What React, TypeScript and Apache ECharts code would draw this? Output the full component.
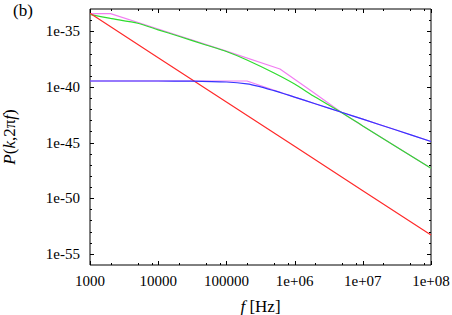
import React, { useEffect, useRef } from 'react';
import * as echarts from 'echarts';

// Frequencies in Hz and log10 of the power spectrum P(k, 2πf)
const redFreq = [1e3, 1e4, 1e5, 1e6, 1e7, 1e8];
const redLogP = [-33.39, -37.37, -41.36, -45.34, -49.33, -53.31];

const greenFreq = [1e3, 2e3, 5e3, 1e4, 2e4, 5e4, 1e5, 2e5, 5e5, 1e6, 2e6, 5e6, 1e7, 1e8];
const greenLogP = [-33.49, -33.85, -34.28, -34.87, -35.45, -36.23, -36.82, -37.58, -38.75, -39.74, -40.91, -42.34, -43.51, -47.31];

const violetUpperFreq = [1e3, 2e3, 1e4, 1e5, 6.1e5, 1.7e6, 5e6, 1e7, 1e8];
const violetUpperLogP = [-33.42, -33.42, -34.8, -36.78, -38.39, -40.3, -42.34, -43.51, -47.31];

const blueFreq = [1e3, 1e4, 3e4, 1e5, 2e5, 3e5, 5e5, 7e5, 1e6, 2e6, 5e6, 1e7, 3e7, 1e8];
const blueLogP = [-39.47, -39.47, -39.48, -39.56, -39.72, -39.95, -40.34, -40.61, -40.92, -41.51, -42.3, -42.9, -43.85, -44.9];

const violetLowerFreq = [1e3, 2e5, 7.7e5, 1e6, 2e6, 5e6, 1e7, 3e7, 1e8];
const violetLowerLogP = [-39.47, -39.47, -40.68, -40.92, -41.51, -42.3, -42.9, -43.85, -44.9];

// Axis ticks
const xMajorTicks = [1e3, 1e4, 1e5, 1e6, 1e7, 1e8];
const xMinorTicks = [2e3, 5e3, 8e3, 2e4, 5e4, 8e4, 2e5, 5e5, 8e5, 2e6, 5e6, 8e6, 2e7, 5e7, 8e7];
const yMajorTicks = [-55, -50, -45, -40, -35];
const yMinorTicks = [-54, -53, -52, -51, -49, -48, -47, -46, -44, -43, -42, -41, -39, -38, -37, -36, -34];

const FONT = 'Liberation Serif';
const MAJOR_LEN = 4;
const MINOR_LEN = 2;

const pts = (f: number[], lp: number[]) => f.map((x, i) => [x, lp[i]]);

const xLabel = (v: number) => {
  const e = Math.round(Math.log10(v));
  return e < 6 ? String(Math.pow(10, e)) : '1e+' + String(e).padStart(2, '0');
};

export default function App() {
  const ref = useRef<HTMLDivElement>(null);
  useEffect(() => {
    if (!ref.current) return;
    const chart = echarts.init(ref.current, null, { renderer: 'svg' });
    const line = (name: string, data: number[][], color: string, smooth: number | boolean, z: number) => ({
      name,
      type: 'line',
      data,
      showSymbol: false,
      symbol: 'none',
      smooth,
      z,
      lineStyle: { color, width: 1.2 },
    });
    // tick marks (mirrored on both sides, pointing inwards), placed through the axes' own scales
    const xTickData = [
      ...xMajorTicks.map((v) => [v, -40, MAJOR_LEN]),
      ...xMinorTicks.map((v) => [v, -40, MINOR_LEN]),
    ];
    const yTickData = [
      ...yMajorTicks.map((v) => [1e4, v, MAJOR_LEN]),
      ...yMinorTicks.map((v) => [1e4, v, MINOR_LEN]),
    ];
    const tickStyle = { stroke: '#000', lineWidth: 1 };
    const xTicks = {
      type: 'custom',
      silent: true,
      z: 10,
      clip: false,
      data: xTickData,
      renderItem: (params: any, api: any) => {
        const cs = params.coordSys;
        const p = api.coord([api.value(0), api.value(1)]);
        const x = Math.round(p[0]) + 0.5;
        const len = api.value(2);
        const top = cs.y;
        const bottom = cs.y + cs.height;
        return {
          type: 'group',
          children: [
            { type: 'line', shape: { x1: x, y1: bottom, x2: x, y2: bottom - len }, style: tickStyle },
            { type: 'line', shape: { x1: x, y1: top, x2: x, y2: top + len }, style: tickStyle },
          ],
        };
      },
    };
    const yTicks = {
      type: 'custom',
      silent: true,
      z: 10,
      clip: false,
      data: yTickData,
      renderItem: (params: any, api: any) => {
        const cs = params.coordSys;
        const p = api.coord([api.value(0), api.value(1)]);
        const y = Math.round(p[1]) + 0.5;
        const len = api.value(2);
        const left = cs.x;
        const right = cs.x + cs.width;
        return {
          type: 'group',
          children: [
            { type: 'line', shape: { x1: left, y1: y, x2: left + len, y2: y }, style: tickStyle },
            { type: 'line', shape: { x1: right, y1: y, x2: right - len, y2: y }, style: tickStyle },
          ],
        };
      },
    };
    chart.setOption({
      animation: false,
      backgroundColor: '#fff',
      textStyle: { fontFamily: FONT },
      grid: {
        left: 90, right: 21, top: 9, bottom: 50,
        outerBoundsMode: 'none',
        containLabel: false,
        show: true, borderColor: '#000', borderWidth: 1, backgroundColor: 'transparent',
      },
      graphic: [
        { type: 'text', left: 13, top: 2, style: { text: '(b)', fontSize: 17, fontFamily: FONT, fill: '#000' } },
      ],
      xAxis: {
        type: 'log',
        logBase: 10,
        min: 1e3,
        max: 1e8,
        axisLine: { show: false },
        splitLine: { show: false },
        axisTick: { show: false },
        axisLabel: { show: true, customValues: xMajorTicks, formatter: xLabel, fontSize: 15, fontFamily: FONT, color: '#000', margin: 8 },
        name: '{i|f} [Hz]',
        nameLocation: 'middle',
        nameGap: 33,
        nameTextStyle: { fontSize: 17, fontFamily: FONT, color: '#000', rich: { i: { fontStyle: 'italic', fontSize: 17, fontFamily: FONT, color: '#000' } } },
      },
      yAxis: {
        type: 'value',
        min: -56,
        max: -33,
        interval: 1,
        axisLine: { show: false },
        splitLine: { show: false },
        axisTick: { show: false },
        axisLabel: { show: true, customValues: yMajorTicks, formatter: (v: number) => '1e' + v, fontSize: 15, fontFamily: FONT, color: '#000', margin: 10 },
        name: '{i|P}({i|k},2π{i|f})',
        nameLocation: 'middle',
        nameRotate: 90,
        nameGap: 72,
        nameTextStyle: { fontSize: 17, fontFamily: FONT, color: '#000', rich: { i: { fontStyle: 'italic', fontSize: 17, fontFamily: FONT, color: '#000' } } },
      },
      series: [
        line('violet-upper', pts(violetUpperFreq, violetUpperLogP), '#f27ef2', false, 1),
        line('violet-lower', pts(violetLowerFreq, violetLowerLogP), '#f27ef2', false, 1),
        line('green', pts(greenFreq, greenLogP), '#2fdc2f', 0.2, 2),
        line('red', pts(redFreq, redLogP), '#ff2a2a', false, 3),
        line('blue', pts(blueFreq, blueLogP), '#3535ff', 0.2, 4),
        xTicks,
        yTicks,
      ],
    });
    return () => chart.dispose();
  }, []);
  return <div ref={ref} style={{ width: 452, height: 315, position: 'absolute', left: 0, top: 0 }} />;
}
